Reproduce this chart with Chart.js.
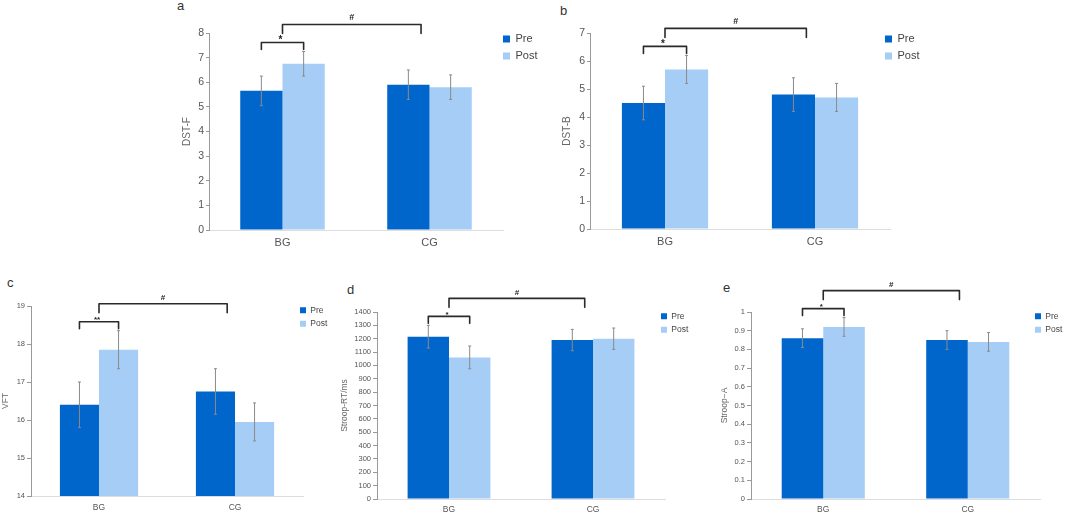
<!DOCTYPE html>
<html>
<head>
<meta charset="utf-8">
<script src="https://cdn.jsdelivr.net/npm/chart.js@4.4.1/dist/chart.umd.min.js"></script>
<style>
  html, body { margin: 0; padding: 0; background: #fff; width: 1065px; height: 516px; overflow: hidden; position: relative; font-family: "Liberation Sans", Arial, sans-serif; }
  canvas { position: absolute; }
  .tag { position: absolute; font-size: 13px; line-height: 13px; color: #333; }
</style>
</head>
<body>
<div class="tag" style="left:177px;top:-1px">a</div>
<div class="tag" style="left:560px;top:4px">b</div>
<div class="tag" style="left:7px;top:276px">c</div>
<div class="tag" style="left:347px;top:283px">d</div>
<div class="tag" style="left:723px;top:281px">e</div>
<canvas id="chartA"></canvas>
<canvas id="chartB"></canvas>
<canvas id="chartC"></canvas>
<canvas id="chartD"></canvas>
<canvas id="chartE"></canvas>
<script>
const groups = ['BG', 'CG'];
const seriesNames = ['Pre', 'Post'];

// a: DST-F
const dstfPre = [5.65, 5.9];
const dstfPost = [6.75, 5.8];
const dstfPreSd = [0.6, 0.6];
const dstfPostSd = [0.5, 0.5];
const dstfTicks = [0, 1, 2, 3, 4, 5, 6, 7, 8];

// b: DST-B
const dstbPre = [4.5, 4.8];
const dstbPost = [5.7, 4.7];
const dstbPreSd = [0.6, 0.6];
const dstbPostSd = [0.5, 0.5];
const dstbTicks = [0, 1, 2, 3, 4, 5, 6, 7];

// c: VFT
const vftPre = [16.4, 16.75];
const vftPost = [17.85, 15.95];
const vftPreSd = [0.6, 0.6];
const vftPostSd = [0.5, 0.5];
const vftTicks = [14, 15, 16, 17, 18, 19];

// d: Stroop reaction time
const rtPre = [1215, 1190];
const rtPost = [1060, 1200];
const rtPreSd = [85, 80];
const rtPostSd = [85, 80];
const rtTicks = [0, 100, 200, 300, 400, 500, 600, 700, 800, 900, 1000, 1100, 1200, 1300, 1400];

// e: Stroop accuracy
const accPre = [0.86, 0.85];
const accPost = [0.92, 0.84];
const accPreSd = [0.05, 0.05];
const accPostSd = [0.05, 0.05];
const accTicks = [0, 0.1, 0.2, 0.3, 0.4, 0.5, 0.6, 0.7, 0.8, 0.9, 1];

// significance marks: pre vs post within BG, and between groups
const pairMarks = ['*', '*', '**', '*', '*'];
const groupMark = '#';

const PRE = '#0066cc';
const POST = '#a6cdf5';
const FONT = '"Liberation Sans", Arial, sans-serif';
Chart.defaults.font.family = FONT;

const panels = [
  { id: 'chartA', left: 177, top: 0, w: 396, h: 256, yw: 32, xh: 22, padTop: 33, padBottom: 4,
    pre: dstfPre, post: dstfPost, preSd: dstfPreSd, postSd: dstfPostSd, ticks: dstfTicks,
    title: 'DST-F', mark: pairMarks[0], big: true, shift: [-6, -5.5] },
  { id: 'chartB', left: 557, top: 0, w: 403, h: 256, yw: 33, xh: 22, padTop: 33, padBottom: 5,
    pre: dstbPre, post: dstbPost, preSd: dstbPreSd, postSd: dstbPostSd, ticks: dstbTicks,
    title: 'DST-B', mark: pairMarks[1], big: true, shift: [-11, -5.5] },
  { id: 'chartC', left: 0, top: 262, w: 373, h: 254, yw: 31, xh: 18, padTop: 44, padBottom: 2,
    pre: vftPre, post: vftPost, preSd: vftPreSd, postSd: vftPostSd, ticks: vftTicks,
    title: 'VFT', mark: pairMarks[2], big: false, shift: [-8, -5], titlePad: 1, xPad: 7 },
  { id: 'chartD', left: 338, top: 262, w: 397, h: 254, yw: 39, xh: 17, padTop: 50, padBottom: 0,
    pre: rtPre, post: rtPost, preSd: rtPreSd, postSd: rtPostSd, ticks: rtTicks,
    title: 'Stroop-RT/ms', mark: pairMarks[3], big: false, shift: [-9, -5], titlePad: 2, xPad: 6 },
  { id: 'chartE', left: 718, top: 262, w: 392, h: 254, yw: 33, xh: 17, padTop: 50, padBottom: 0,
    pre: accPre, post: accPost, preSd: accPreSd, postSd: accPostSd, ticks: accTicks,
    title: 'Stroop\u2212A', mark: pairMarks[4], big: false, shift: [-10, -5], titlePad: 2, xPad: 6 }
];

function bracket(ctx, xa, xb, h, la, lb) {
  ctx.beginPath();
  ctx.moveTo(xa, la);
  ctx.lineTo(xa, h);
  ctx.lineTo(xb, h);
  ctx.lineTo(xb, lb);
  ctx.stroke();
}

function makeStats(p) {
  return {
    id: 'stats',
    afterLayout(chart) {
      const lg = chart.legend;
      lg.left += p.shift[0];
      lg.right += p.shift[0] + 60;
      lg.top += p.shift[1];
      lg.bottom += p.shift[1];
    },
    afterDatasetsDraw(chart) {
      const ctx = chart.ctx;
      const y = chart.scales.y;
      const ds = chart.data.datasets;
      ctx.save();
      // error bars
      ctx.strokeStyle = '#8a8a8a';
      ctx.lineWidth = 1;
      ds.forEach((set, di) => {
        chart.getDatasetMeta(di).data.forEach((bar, i) => {
          const top = y.getPixelForValue(set.data[i] + set.sd[i]);
          const bot = y.getPixelForValue(set.data[i] - set.sd[i]);
          ctx.beginPath();
          ctx.moveTo(bar.x, top); ctx.lineTo(bar.x, bot);
          ctx.moveTo(bar.x - 1.5, top); ctx.lineTo(bar.x + 1.5, top);
          ctx.moveTo(bar.x - 1.5, bot); ctx.lineTo(bar.x + 1.5, bot);
          ctx.stroke();
        });
      });
      // significance brackets
      const m0 = chart.getDatasetMeta(0).data;
      const m1 = chart.getDatasetMeta(1).data;
      const errTop = Math.min(
        y.getPixelForValue(ds[0].data[0] + ds[0].sd[0]),
        y.getPixelForValue(ds[1].data[0] + ds[1].sd[0]));
      const legB = errTop - 2;
      const h1 = legB - 7;
      const xm = (m0[0].x + m1[0].x) / 2;
      const h2 = h1 - 18;
      const x3 = m0[1].x + m0[1].width * 0.3;
      ctx.strokeStyle = '#2a2a2a';
      ctx.lineWidth = 1.6;
      ctx.lineJoin = 'round';
      ctx.lineCap = 'round';
      bracket(ctx, m0[0].x, m1[0].x, h1, legB, legB);
      bracket(ctx, xm, x3, h2, h2 + 9, h2 + 9);
      ctx.fillStyle = '#222';
      ctx.textAlign = 'center';
      ctx.textBaseline = 'bottom';
      ctx.font = 'bold ' + (p.big ? 10 : 8) + 'px ' + FONT;
      ctx.fillText(p.mark, xm - 2, h1 + (p.big ? 3 : 2));
      ctx.font = 'bold ' + (p.big ? 9 : 8) + 'px ' + FONT;
      ctx.fillText(groupMark, (xm + x3) / 2, h2 - 2);
      ctx.restore();
    }
  };
}

panels.forEach(p => {
  const cv = document.getElementById(p.id);
  cv.width = p.w;
  cv.height = p.h;
  cv.style.left = p.left + 'px';
  cv.style.top = p.top + 'px';
  const tickSize = p.big ? 10.5 : 7.5;
  const labelSize = p.big ? 11 : 8.5;

  new Chart(cv, {
    type: 'bar',
    data: {
      labels: groups,
      datasets: [
        { label: seriesNames[0], data: p.pre, sd: p.preSd, backgroundColor: PRE, borderWidth: 0 },
        { label: seriesNames[1], data: p.post, sd: p.postSd, backgroundColor: POST, borderWidth: 0 }
      ]
    },
    options: {
      responsive: false,
      animation: false,
      categoryPercentage: 0.575,
      barPercentage: 1,
      layout: { padding: { left: 0, top: p.padTop, right: 40, bottom: p.padBottom } },
      plugins: {
        tooltip: { enabled: false },
        legend: {
          position: 'right',
          align: 'start',
          fullSize: false,
          maxWidth: 30,
          labels: {
            boxWidth: p.big ? 7 : 6,
            boxHeight: p.big ? 7 : 6,
            padding: p.big ? 6 : 5,
            color: '#444',
            font: { size: p.big ? 11 : 8.5 }
          }
        }
      },
      scales: {
        x: {
          grid: { display: false, drawTicks: false },
          border: { display: true, color: '#dddddd', width: 1 },
          ticks: { color: '#555', padding: p.xPad || 6, font: { size: labelSize } },
          afterFit: s => { s.height = p.xh; }
        },
        y: {
          min: p.ticks[0],
          max: p.ticks[p.ticks.length - 1],
          afterBuildTicks: s => { s.ticks = p.ticks.map(v => ({ value: v })); },
          grid: { drawOnChartArea: false, drawTicks: true, tickLength: p.big ? 3 : 4, color: '#999' },
          border: { display: true, color: '#999', width: 1 },
          ticks: { color: '#555', padding: 2, font: { size: tickSize }, callback: v => String(v) },
          title: {
            display: true,
            text: p.title,
            color: '#666',
            font: { size: p.big ? 10 : 8.5 },
            padding: { top: p.titlePad !== undefined ? p.titlePad : 4, bottom: 0 }
          },
          afterFit: s => { s.width = p.yw; }
        }
      }
    },
    plugins: [makeStats(p)]
  });
});
</script>
</body>
</html>
